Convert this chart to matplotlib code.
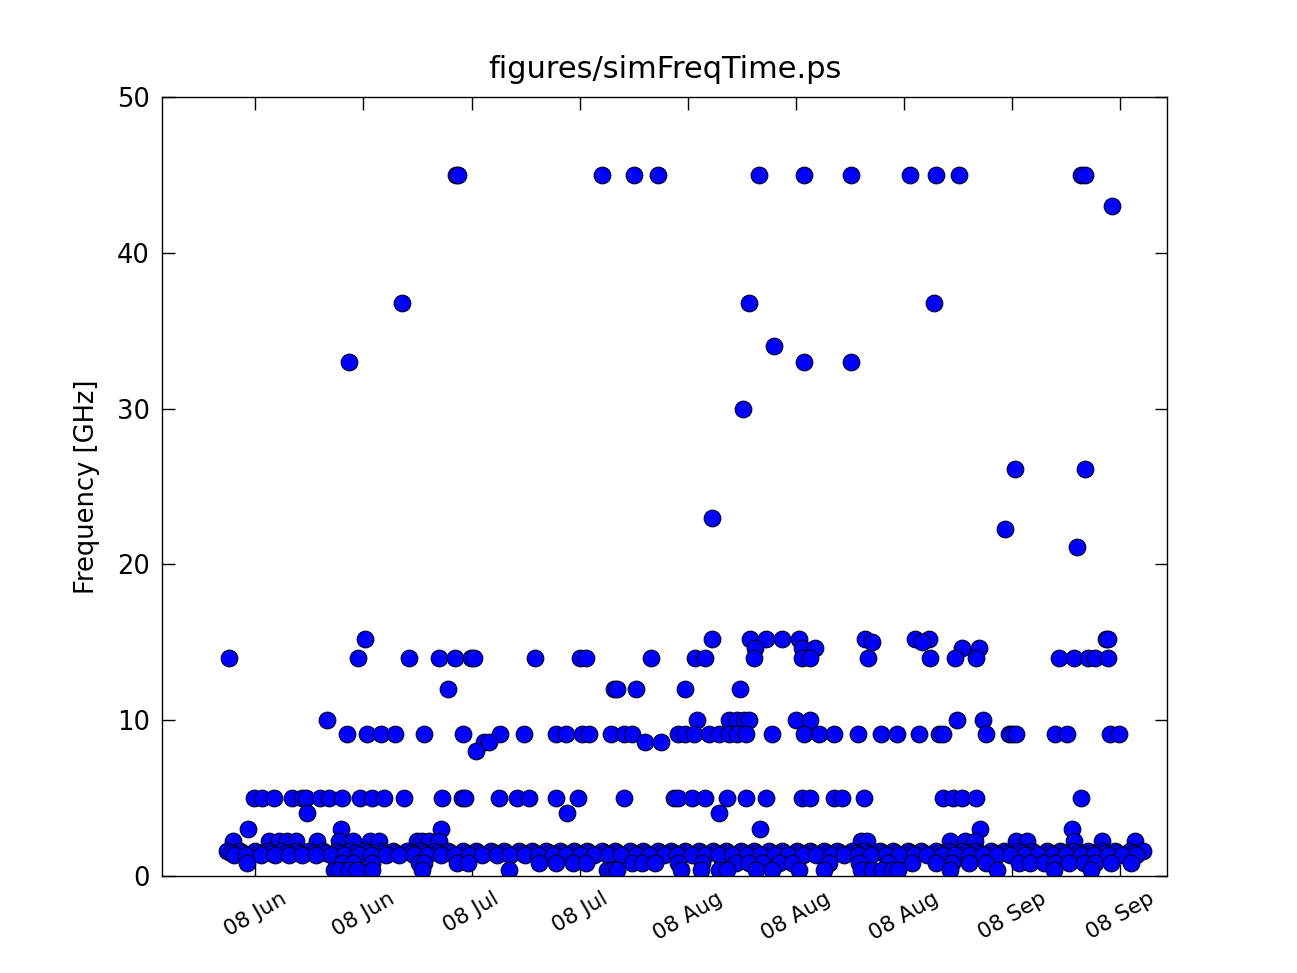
import numpy as np
import matplotlib
matplotlib.use("Agg")
import matplotlib.pyplot as plt
import matplotlib.dates as mdates

# days after 2008-06-01, grouped by frequency level [GHz]
days_45 = [33.0, 33.3, 51.9, 56.1, 59.2, 72.2, 78.1, 84.2, 91.8, 95.1, 98.2, 113.9, 114.4]
days_43 = [118.0]
days_368 = [26.0, 71.0, 94.9]
days_34 = [74.2]
days_33 = [19.1, 78.1, 84.2]
days_30 = [70.1]
days_261 = [105.4, 114.4]
days_23 = [66.2]
days_223 = [104.1]
days_211 = [113.4]
days_152 = [21.2, 66.2, 71.1, 73.1, 75.2, 77.4, 86.0, 92.5, 94.2, 117.2, 117.4]
days_150 = [86.9, 93.4]
days_146 = [71.7, 77.8, 79.5, 98.5, 100.7]
days_14 = [3.6, 20.3, 26.9, 30.8, 32.8, 34.9, 35.3, 43.2, 49.1, 49.8, 58.2, 64.0, 65.3,
           71.6, 77.8, 78.9, 86.4, 94.4, 97.6, 100.3, 111.1, 113.0, 114.9, 115.8, 117.5]
days_12 = [32.0, 53.4, 53.8, 56.3, 62.7, 69.8]
days_10 = [16.3, 64.2, 68.3, 69.4, 70.3, 70.9, 77.0, 78.9, 97.9, 101.2]
days_91 = [18.9, 21.5, 23.3, 25.1, 28.9, 33.9, 38.7, 41.8, 45.9, 47.2, 49.3, 50.2, 53.0,
           54.7, 55.8, 61.8, 62.7, 63.8, 65.7, 67.0, 68.3, 69.4, 70.5, 73.9, 78.0, 80.0,
           81.9, 85.1, 88.0, 90.1, 92.9, 95.5, 96.1, 101.6, 104.6, 105.0, 105.5, 110.6,
           112.1, 117.7, 118.9]
days_86 = [36.6, 37.2, 57.5, 59.5]
days_80 = [35.6]
days_5 = [6.8, 7.9, 9.4, 11.7, 13.0, 13.5, 15.4, 16.5, 18.2, 20.6, 22.1, 23.6, 26.3, 31.2,
          33.8, 34.2, 38.5, 40.9, 42.4, 45.9, 48.8, 54.8, 61.2, 61.8, 63.6, 65.3, 68.1,
          70.5, 73.1, 77.8, 78.9, 81.9, 83.0, 85.9, 96.1, 97.4, 98.5, 100.3, 113.9]
days_4 = [13.7, 47.4, 67.0]
days_3 = [6.1, 18.1, 31.0, 72.4, 100.8, 112.8]
days_22 = [4.1, 8.7, 10.0, 11.1, 12.2, 15.0, 17.8, 19.7, 21.9, 23.0, 27.9, 28.6, 29.5, 30.8,
           85.4, 86.2, 97.0, 98.9, 100.2, 105.5, 106.9, 113.0, 116.7, 121.0]
days_16 = [3.3, 5.0, 6.9, 8.6, 10.3, 12.2, 14.0, 15.7, 17.6, 19.3, 21.2, 23.1, 24.8, 26.7,
           28.4, 30.3, 32.0, 33.9, 35.6, 37.5, 39.2, 41.1, 42.8, 44.7, 46.4, 48.3, 50.0,
           51.9, 53.6, 55.5, 57.2, 59.1, 60.8, 62.7, 64.4, 66.3, 68.0, 69.9, 71.6, 73.5,
           75.2, 77.1, 78.8, 80.7, 82.4, 84.3, 86.0, 87.9, 89.6, 91.5, 93.2, 95.1, 96.8,
           98.7, 100.4, 102.3, 104.0, 105.9, 107.6, 109.5, 111.2, 113.1, 114.8, 116.7,
           118.4, 120.3, 122.0]
days_15 = [3.8, 5.4, 7.3, 9.0, 10.9, 12.6, 14.5, 16.2, 18.0, 19.9, 21.6, 23.5, 25.2, 27.1,
           28.8, 30.7, 32.4, 34.3, 36.0, 37.9, 39.6, 41.5, 43.2, 45.1, 46.8, 48.7, 50.4,
           52.3, 54.0, 55.9, 57.6, 59.5, 61.2, 63.1, 64.8, 66.7, 68.4, 70.3, 72.0, 73.9,
           75.6, 77.5, 79.2, 81.1, 82.8, 84.7, 86.4, 88.3, 90.0, 91.9, 93.6, 95.5, 97.2,
           99.1, 100.8, 102.7, 104.4, 106.3, 108.0, 109.9, 111.6, 113.5, 115.2, 117.1,
           118.8, 120.7]
days_13 = [4.2, 5.8, 7.7, 9.5, 11.4, 13.1, 14.9, 16.8, 18.5, 20.4, 22.0, 23.9, 25.6, 27.5,
           29.2, 31.1, 32.8, 34.7, 36.4, 38.3, 40.0, 41.9, 43.6, 45.5, 47.2, 49.1, 50.8,
           52.7, 54.4, 56.3, 58.0, 59.9, 61.6, 63.5, 65.2, 67.1, 68.8, 70.7, 72.4, 74.3,
           76.0, 77.9, 79.6, 81.5, 83.2, 85.1, 86.8, 88.7, 90.4, 92.3, 94.0, 95.9, 97.6,
           99.5, 101.2, 103.1, 104.8, 106.7, 108.4, 110.3, 112.0, 113.9, 115.6, 117.5,
           119.2, 121.1]
days_08 = [5.9, 18.2, 19.7, 22.1, 28.2, 28.8, 33.1, 34.6, 43.7, 45.9, 48.2, 49.8, 55.8,
           57.1, 58.8, 61.8, 64.8, 69.2, 70.9, 72.6, 74.8, 76.5, 81.3, 85.2, 88.9, 92.0,
           95.1, 97.2, 99.4, 101.6, 105.9, 107.4, 109.1, 110.6, 112.4, 114.3, 115.8,
           117.8, 120.4]
days_03 = [17.2, 17.8, 19.1, 20.2, 22.1, 28.6, 39.8, 52.6, 53.2, 53.8, 62.1, 64.7, 67.0,
           68.1, 71.8, 73.9, 77.4, 80.6, 85.4, 86.9, 88.2, 89.5, 90.3, 97.0, 103.0,
           110.4, 115.2]

rows = [(days_45, 45.0), (days_43, 43.0), (days_368, 36.8), (days_34, 34.0), (days_33, 33.0),
        (days_30, 30.0), (days_261, 26.1), (days_23, 23.0), (days_223, 22.3), (days_211, 21.1),
        (days_152, 15.2), (days_150, 15.0), (days_146, 14.6), (days_14, 14.0), (days_12, 12.0),
        (days_10, 10.0), (days_91, 9.1), (days_86, 8.6), (days_80, 8.0), (days_5, 5.0),
        (days_4, 4.0), (days_3, 3.0), (days_22, 2.2), (days_16, 1.6), (days_15, 1.45),
        (days_13, 1.3), (days_08, 0.8), (days_03, 0.35)]

tick_dates = ['2008-06-08', '2008-06-22', '2008-07-06', '2008-07-20', '2008-08-03',
              '2008-08-17', '2008-08-31', '2008-09-14', '2008-09-28']

start = np.datetime64('2008-06-01T00:00')
xs, ys = [], []
for d, f in rows:
    mins = (np.array(d) * 24 * 60).astype('timedelta64[m]')
    xs.extend(list((start + mins).astype('datetime64[m]').astype(object)))
    ys.extend([f] * len(d))

fig = plt.figure(figsize=(12.97, 9.73), dpi=100)
ax = fig.add_axes([0.125, 0.1, 0.775, 0.8])
ax.plot(xs, ys, 'o', color='#0000ff', markersize=12, markeredgecolor='#000022',
        markeredgewidth=0.8)

ax.set_ylim(0, 50)
ax.set_xlim(np.datetime64('2008-05-26T22:00').astype(object),
            np.datetime64('2008-10-04T03:00').astype(object))
ax.set_xticks([np.datetime64(t).astype(object) for t in tick_dates])
ax.xaxis.set_major_formatter(mdates.DateFormatter('%y %b'))
ax.set_yticks([0, 10, 20, 30, 40, 50])

ax.tick_params(direction='in', top=True, right=True, length=9, width=1)
ax.tick_params(axis='y', labelsize=18.5, pad=9)
ax.tick_params(axis='x', labelsize=15.5, pad=9)
plt.setp(ax.get_xticklabels(), rotation=30, ha='center')
for s in ax.spines.values():
    s.set_linewidth(1.0)

ax.set_ylabel('Frequency [GHz]', fontsize=18.5, labelpad=12)
ax.set_title('figures/simFreqTime.ps', fontsize=22, pad=14)

fig.savefig('out.png', dpi=100, facecolor='white')
